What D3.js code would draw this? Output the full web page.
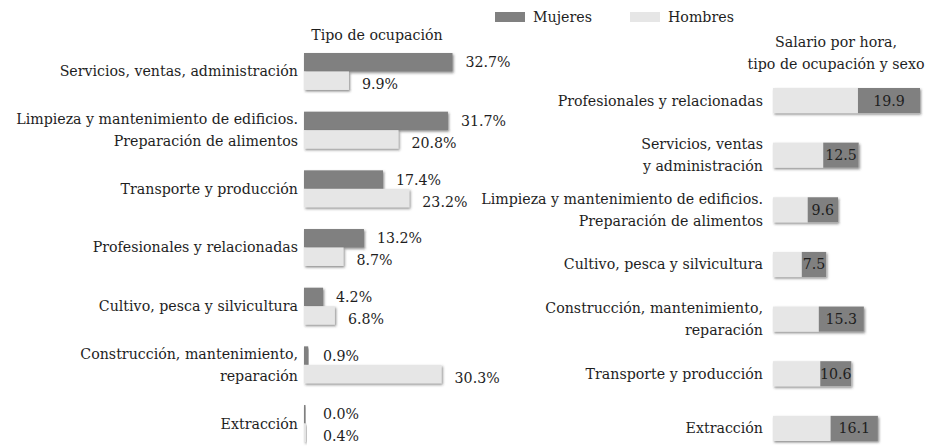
<!DOCTYPE html>
<html>
<head>
<meta charset="utf-8">
<script src="https://cdn.jsdelivr.net/npm/d3@7"></script>
<style>
  body { margin: 0; background: #fff; }
</style>
</head>
<body>
<div class="chart"></div>
<script>
// data: ocupación por sexo (%)
const ocupaciones = [
  "Servicios, ventas, administración",
  "Limpieza y mantenimiento de edificios.|Preparación de alimentos",
  "Transporte y producción",
  "Profesionales y relacionadas",
  "Cultivo, pesca y silvicultura",
  "Construcción, mantenimiento,|reparación",
  "Extracción"
];
const pctMujeres = [32.7, 31.7, 17.4, 13.2, 4.2, 0.9, 0.0];
const pctHombres = [9.9, 20.8, 23.2, 8.7, 6.8, 30.3, 0.4];

// data: salario por hora
const salarioCat = [
  "Profesionales y relacionadas",
  "Servicios, ventas|y administración",
  "Limpieza y mantenimiento de edificios.|Preparación de alimentos",
  "Cultivo, pesca y silvicultura",
  "Construcción, mantenimiento,|reparación",
  "Transporte y producción",
  "Extracción"
];
const salario = [19.9, 12.5, 9.6, 7.5, 15.3, 10.6, 16.1];
// light and dark segments as drawn (in salary units)
const segHombres = [11.5, 6.8, 4.7, 3.9, 6.2, 6.4, 7.8];
const segMujeres = [8.4, 4.8, 4.1, 3.3, 6.1, 4.2, 6.4];

const colMujeres = "#808080",
  colHombres = "#e6e6e6";

const width = 929, height = 447;

const svg = d3.select(".chart").append("svg")
  .attr("width", width)
  .attr("height", height)
  .style("font-family", "\"DejaVu Serif\", serif")
  .attr("font-size", 14.2)
  .attr("fill", "#1e1e1e");

const defs = svg.append("defs");
defs.append("filter")
    .attr("id", "sombra")
    .attr("x", "-10%").attr("y", "-20%")
    .attr("width", "130%").attr("height", "160%")
  .append("feDropShadow")
    .attr("dx", 1.2).attr("dy", 1.5)
    .attr("stdDeviation", 0.8)
    .attr("flood-color", "#333")
    .attr("flood-opacity", 0.55);

// text split on "|", centred vertically on y
function multiline(sel, lh) {
  sel.each(function(d) {
    const t = d3.select(this);
    const lines = d.split("|");
    const y0 = +t.attr("y") - (lines.length - 1) * lh / 2 + 5;
    lines.forEach((l, i) => {
      t.append("tspan")
        .attr("x", t.attr("x"))
        .attr("y", y0 + i * lh)
        .text(l);
    });
  });
}

// legend
const legend = svg.append("g");
[["Mujeres", colMujeres, 495], ["Hombres", colHombres, 630]].forEach(([name, c, lx]) => {
  legend.append("rect")
    .attr("x", lx).attr("y", 12)
    .attr("width", 30).attr("height", 10)
    .attr("fill", c);
  legend.append("text")
    .attr("x", lx + 38).attr("y", 22)
    .text(name);
});

// ---- left chart: tipo de ocupación ----
const x = d3.scaleLinear()
  .domain([0, 32.7])
  .range([304, 452.5]);

const y = d3.scaleBand()
  .domain(ocupaciones)
  .range([53, 442])
  .paddingInner(0.37)
  .paddingOuter(0);

const ySub = d3.scaleBand()
  .domain(["m", "h"])
  .range([0, y.bandwidth()]);

svg.append("text")
  .attr("x", 377).attr("y", 40)
  .attr("text-anchor", "middle")
  .text("Tipo de ocupación");

const rowsL = svg.append("g").selectAll("g")
  .data(ocupaciones)
  .join("g")
    .attr("transform", d => "translate(0," + y(d) + ")");

rowsL.append("text")
  .attr("x", 298)
  .attr("y", y.bandwidth() / 2)
  .attr("text-anchor", "end")
  .call(multiline, 22);

rowsL.each(function(d, i) {
  const g = d3.select(this);
  [["m", pctMujeres[i], colMujeres, 5], ["h", pctHombres[i], colHombres, 8.5]].forEach(([k, v, c, dy]) => {
    g.append("rect")
      .attr("x", x(0))
      .attr("y", ySub(k))
      .attr("width", Math.max(1.5, x(v) - x(0)))
      .attr("height", ySub.bandwidth())
      .attr("fill", c)
      .attr("filter", "url(#sombra)");
    g.append("text")
      .attr("x", Math.max(x(v), x(0) + 6) + 13)
      .attr("y", ySub(k) + ySub.bandwidth() / 2 + dy)
      .text(v.toFixed(1) + "%");
  });
});

// ---- right chart: salario por hora ----
const x2 = d3.scaleLinear()
  .domain([0, 19.9])
  .range([773, 920]);

const y2 = d3.scaleBand()
  .domain(salarioCat)
  .range([88, 441])
  .paddingInner(0.54)
  .paddingOuter(0);

svg.append("text")
  .attr("x", 836).attr("y", 47)
  .attr("text-anchor", "middle")
  .text("Salario por hora,");
svg.append("text")
  .attr("x", 836).attr("y", 69)
  .attr("text-anchor", "middle")
  .text("tipo de ocupación y sexo");

const rowsR = svg.append("g").selectAll("g")
  .data(salarioCat)
  .join("g")
    .attr("transform", d => "translate(0," + y2(d) + ")");

rowsR.append("text")
  .attr("x", 763)
  .attr("y", y2.bandwidth() / 2)
  .attr("text-anchor", "end")
  .call(multiline, 22);

rowsR.each(function(d, i) {
  const g = d3.select(this);
  const a = segHombres[i], b = segHombres[i] + segMujeres[i];
  g.append("rect")
    .attr("x", x2(0)).attr("y", 0)
    .attr("width", x2(b) - x2(0))
    .attr("height", y2.bandwidth())
    .attr("fill", colHombres)
    .attr("filter", "url(#sombra)");
  g.append("rect")
    .attr("x", x2(a)).attr("y", 0)
    .attr("width", x2(b) - x2(a))
    .attr("height", y2.bandwidth())
    .attr("fill", colMujeres);
  g.append("text")
    .attr("x", (x2(a) + x2(b)) / 2)
    .attr("y", y2.bandwidth() / 2 + 5)
    .attr("text-anchor", "middle")
    .text(salario[i].toFixed(1));
});
</script>
</body>
</html>
